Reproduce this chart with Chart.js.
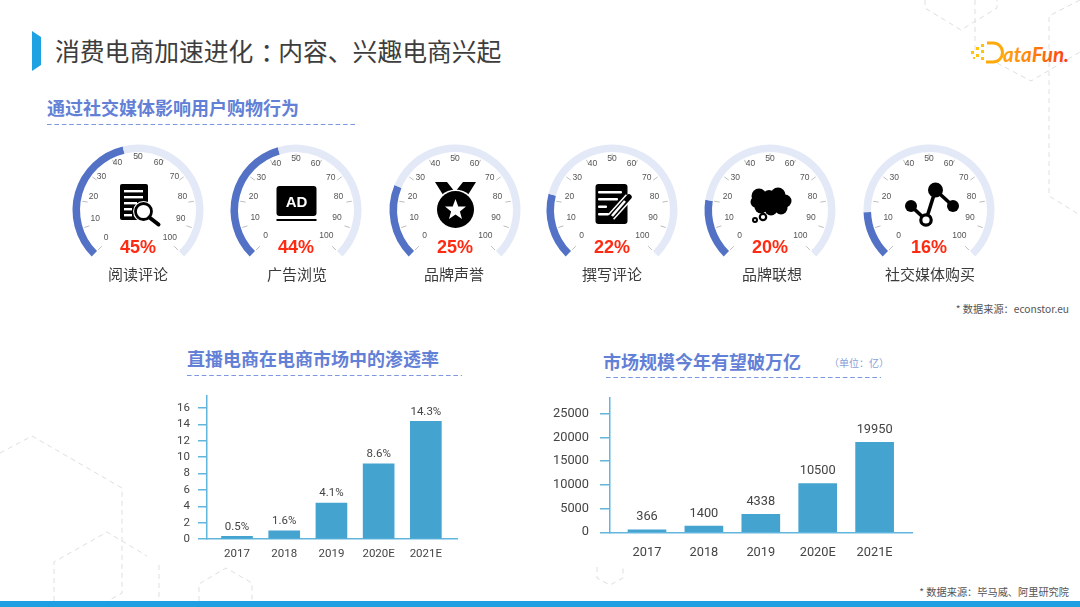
<!DOCTYPE html>
<html lang="zh">
<head>
<meta charset="utf-8">
<title>消费电商加速进化</title>
<script src="https://cdn.jsdelivr.net/npm/chart.js@4/dist/chart.umd.min.js"></script>
<style>
html,body{margin:0;padding:0;background:#fff}
#page{position:relative;width:1080px;height:607px;overflow:hidden;background:#fff;font-family:"Noto Sans CJK SC","Noto Sans",sans-serif}
#page>*{position:absolute}
.t{white-space:nowrap;line-height:1}
.sub{font-size:18px;font-weight:700;color:#6280d6;transform:translateY(-50%)}
canvas{display:block}
</style>
</head>
<body>
<div id="page">
<svg style="left:0;top:0" width="1080" height="607" fill="none" stroke="#dfdfdf" stroke-width="1" stroke-dasharray="5 4">
  <polyline points="0,453 32,436 122,488 122,593 108,601"/>
  <polyline points="54,601 54,562 107,532 147,556"/>
  <polyline points="159,565 159,601"/>
  <polyline points="199,601 199,584 226,568 252,583 252,601"/>
  <polyline points="597,567 597,578 610,585 623,578 623,566"/>
  <polyline points="925,0 925,8 961,30 997,8 997,0"/>
  <polyline points="975,0 975,50"/>
  <polyline points="1080,0 1049,16 1049,196 1080,215"/>
  <polyline points="997,63 1031,81 1080,52"/>
</svg>
<svg style="left:0;top:0" width="1080" height="607">
  <polygon points="32,31 41,37 41,65 32,71" fill="#1fa2e2"/>
  <rect x="0" y="601" width="1080" height="6" fill="#1f9fe3"/>
  <g stroke="#7d97e0" stroke-width="1.2" stroke-dasharray="4.6 2.8" fill="none">
    <line x1="47" y1="124.5" x2="356" y2="124.5"/>
    <line x1="187" y1="375.5" x2="462" y2="375.5"/>
    <line x1="606" y1="377.5" x2="881" y2="377.5"/>
  </g>
</svg>

<div class="t" style="left:55px;top:38px;font-size:24.8px;color:#3d3d3d">消费电商加速进化<span style="position:relative;left:7px">：</span>内容、兴趣电商兴起</div>

<div class="t sub" style="left:47px;top:107px">通过社交媒体影响用户购物行为</div>
<div class="t sub" style="left:187px;top:358px">直播电商在电商市场中的渗透率</div>
<div class="t sub" style="left:603px;top:361px">市场规模今年有望破万亿</div>
<div class="t" style="left:829px;top:358px;font-size:10px;color:#8a9fd8">（单位：亿）</div>

<div class="t" style="right:11px;top:304px;font-size:10.2px;color:#555">* 数据来源：econstor.eu</div>
<div class="t" style="right:11px;top:587px;font-size:10.2px;color:#555">* 数据来源：毕马威、阿里研究院</div>

<svg style="left:965px;top:36px" width="112" height="32">
  <defs><linearGradient id="logo" gradientUnits="userSpaceOnUse" x1="20" y1="0" x2="104" y2="0"><stop offset="0" stop-color="#ffb80e"/><stop offset="0.5" stop-color="#ff8a0a"/><stop offset="1" stop-color="#fb3a10"/></linearGradient></defs>
  <g fill="#ffc20e">
    <rect x="6" y="15" width="3" height="3"/><rect x="11" y="11" width="3" height="3"/><rect x="16" y="8" width="3" height="3"/>
    <rect x="11" y="18" width="3" height="3"/><rect x="16" y="14" width="3" height="3"/><rect x="16" y="21" width="3" height="3"/><rect x="8" y="21" width="2" height="2"/>
  </g>
  <path d="M22 7 h6 a9.5 9.5 0 0 1 0 19 h-7" fill="none" stroke="#ffa90c" stroke-width="3"/>
  <text x="38" y="26" font-family="Lato,Inter,sans-serif" font-style="italic" font-weight="700" font-size="20" fill="url(#logo)" textLength="66" lengthAdjust="spacingAndGlyphs">ataFun.</text>
</svg>

<canvas id="rate" width="330" height="189" style="left:150px;top:381px"></canvas>
<canvas id="size" width="400" height="191" style="left:530px;top:379px"></canvas>
</div>

<script>
// ---------- data ----------
const gaugeNames = ['阅读评论','广告浏览','品牌声誉','撰写评论','品牌联想','社交媒体购买'];
const gaugeValues = [45,44,25,22,20,16];
const gaugeTicks = [0,10,20,30,40,50,60,70,80,90,100];

const years = ['2017','2018','2019','2020E','2021E'];
const rateBars = [0.33,1.0,4.4,9.2,14.4];
const rateLabels = ['0.5%','1.6%','4.1%','8.6%','14.3%'];
const rateTicks = [0,2,4,6,8,10,12,14,16];
const sizeBars = [540,1320,3760,10240,18940];
const sizeLabels = ['366','1400','4338','10500','19950'];
const sizeTicks = [0,5000,10000,15000,20000,25000];

// ---------- styling ----------
const gaugeX = [138,296,455,612,770,929];
const gaugeNameDX = [0,1,-1,0,2,1];
const gaugeLabelR = [45,43,43,43,43,43];
const CJK = '"Noto Sans CJK SC","Noto Sans",sans-serif';
const NUM = 'Roboto,sans-serif';
const icons = [
 `<rect x="-18" y="-26" width="28" height="36" rx="2" fill="#000"/>
  <g fill="#fff"><rect x="-14" y="-20" width="19" height="2.4"/><rect x="-14" y="-14" width="19" height="2.4"/><rect x="-14" y="-8" width="13" height="2.4"/><rect x="-14" y="-2" width="8" height="2.4"/><rect x="-14" y="4" width="8" height="2.4"/></g>
  <circle cx="5.5" cy="1.5" r="10.5" fill="#fff"/><circle cx="5.5" cy="1.5" r="8" fill="#fff" stroke="#000" stroke-width="2.8"/>
  <line x1="11.5" y1="7.5" x2="20.5" y2="14.5" stroke="#000" stroke-width="4" stroke-linecap="round"/>`,
 `<rect x="-19.5" y="-24" width="40" height="30" rx="3" fill="#000"/><rect x="-19.5" y="9" width="40" height="2" fill="#000"/>
  <text x="0.5" y="-3" text-anchor="middle" font-family="Liberation Sans,sans-serif" font-weight="700" font-size="15" fill="#fff">AD</text>`,
 `<polygon points="-20,-28 -8,-28 0,-18 8,-28 21,-28 11,-12 -10,-12" fill="#000"/>
  <circle cx="0.5" cy="-0.5" r="20" fill="#fff"/>
  <circle cx="0.5" cy="-0.5" r="18.5" fill="#000"/>
  <polygon points="0.5,-11 3.3,-3.6 11,-3.4 4.9,1.4 7,8.9 0.5,4.6 -6,8.9 -3.9,1.4 -10,-3.4 -2.3,-3.6" fill="#fff"/>`,
 `<rect x="-16.5" y="-26" width="32" height="40" rx="3" fill="#000"/>
  <g fill="#fff"><rect x="-14" y="-19" width="24" height="2.6" rx="1"/><rect x="-14" y="-12" width="20" height="2.6" rx="1"/><rect x="-14" y="-4.5" width="9" height="2.6" rx="1"/><rect x="-14" y="3" width="11" height="2.6" rx="1"/></g>
  <line x1="-1" y1="7" x2="17" y2="-13" stroke="#fff" stroke-width="8.5"/>
  <line x1="-1" y1="7" x2="17" y2="-13" stroke="#000" stroke-width="5.5" stroke-linecap="round"/>
  <line x1="0" y1="6" x2="13" y2="-9" stroke="#fff" stroke-width="2.6"/>`,
 `<g fill="#000"><circle cx="-11" cy="-14" r="7.5"/><circle cx="-1" cy="-14" r="6"/><circle cx="8" cy="-15" r="7.5"/><circle cx="15" cy="-9" r="6.5"/><circle cx="11" cy="-2" r="6.5"/><circle cx="1" cy="-1" r="6.5"/><circle cx="-9" cy="-3" r="6.5"/><circle cx="-14" cy="-8" r="5.5"/><rect x="-10" y="-14" width="20" height="12"/></g>
  <circle cx="-7" cy="7" r="3.2" fill="#fff" stroke="#000" stroke-width="2.2"/><circle cx="-15" cy="10" r="2" fill="#fff" stroke="#000" stroke-width="2"/>`,
 `<g stroke="#000" stroke-width="3.6"><line x1="6.5" y1="-20" x2="-3" y2="10"/><line x1="6.5" y1="-20" x2="24" y2="-4"/><line x1="-18" y1="-4" x2="-3" y2="10"/></g>
  <circle cx="6.5" cy="-20" r="7.5" fill="#000"/><circle cx="-18" cy="-4" r="6" fill="#000"/><circle cx="24" cy="-4" r="6" fill="#000"/>
  <circle cx="-3" cy="10" r="5.2" fill="#fff" stroke="#000" stroke-width="3.2"/>`
];

// ---------- gauges ----------
const page = document.getElementById('page');
const CENTER_Y = 210;
const gaugeDecor = {
  id:'gaugeDecor',
  afterDatasetsDraw(chart, args, opts){
    const arc = chart.getDatasetMeta(0).data[0];
    const cx = arc.x, cy = arc.y, ctx = chart.ctx;
    ctx.save();
    gaugeTicks.forEach(v=>{
      const a = (-135 + 2.7*v)*Math.PI/180, s=Math.sin(a), c=Math.cos(a);
      ctx.strokeStyle='#bdbdbd'; ctx.lineWidth=1;
      ctx.beginPath(); ctx.moveTo(cx+s*51,cy-c*51); ctx.lineTo(cx+s*56.5,cy-c*56.5); ctx.stroke();
      const r = opts.labelR, yo = 6 + 2*c;
      ctx.fillStyle='#555'; ctx.font='8.5px "Liberation Sans",sans-serif';
      ctx.textAlign='center'; ctx.textBaseline='middle';
      ctx.fillText(String(v), cx+s*r, cy-c*r-yo);
    });
    ctx.fillStyle='#ff2a12'; ctx.font='bold 18px "Liberation Sans",sans-serif';
    ctx.fillText(opts.value+'%', cx, 248-opts.top);
    ctx.fillStyle='#3a3a3a'; ctx.font='15px '+CJK;
    ctx.fillText(opts.name, cx+opts.nameDX, 274.5-opts.top);
    ctx.restore();
  }
};
gaugeValues.forEach((v,i)=>{
  const W=150, H=171, top=125, left=gaugeX[i]-75;
  const cv=document.createElement('canvas');
  cv.width=W; cv.height=H;
  cv.style.cssText=`left:${left}px;top:${top}px`;
  page.appendChild(cv);
  new Chart(cv,{
    type:'doughnut',
    plugins:[gaugeDecor],
    data:{labels:[gaugeNames[i],''],datasets:[{data:[v,100-v],backgroundColor:['#5372c6','#e3e9f7'],borderWidth:0,hoverOffset:0}]},
    options:{
      responsive:false,animation:false,events:[],
      rotation:-135,circumference:270,radius:65.5,cutout:'88.5%',
      layout:{padding:{bottom:20}},
      plugins:{legend:{display:false},tooltip:{enabled:false},
        gaugeDecor:{labelR:gaugeLabelR[i],value:v,name:gaugeNames[i],nameDX:gaugeNameDX[i],top}}
    }
  });
  const svg=document.createElementNS('http://www.w3.org/2000/svg','svg');
  svg.setAttribute('width',80);svg.setAttribute('height',70);
  svg.setAttribute('viewBox','-40 -35 80 70');
  svg.style.cssText=`left:${gaugeX[i]-40}px;top:${CENTER_Y-35}px`;
  svg.innerHTML=icons[i];
  page.appendChild(svg);
});

// ---------- bar charts ----------
const valueLabels = {
  id:'valueLabels',
  afterDatasetsDraw(chart,args,opts){
    const ctx=chart.ctx;
    ctx.save();
    ctx.fillStyle='#444';ctx.font=opts.font;ctx.textAlign='center';ctx.textBaseline='middle';
    chart.getDatasetMeta(0).data.forEach((b,i)=>ctx.fillText(opts.texts[i],b.x,b.y-opts.gap));
    ctx.restore();
  }
};
function barChart(id,bars,texts,yTicks,c){
  const axis='#62b5dd';
  new Chart(document.getElementById(id),{
    type:'bar',
    plugins:[valueLabels],
    data:{datasets:[{data:bars.map((y,i)=>({x:i,y})),backgroundColor:'#44a3cf',barThickness:c.bar}]},
    options:{
      responsive:false,animation:false,events:[],
      layout:{padding:{top:c.padTop,right:c.padRight,left:0,bottom:0}},
      scales:{
        x:{type:'linear',offset:false,min:c.xMin,max:c.xMax,
           afterFit(s){s.height=c.xH;},
           grid:{display:true,offset:false,drawOnChartArea:false,drawTicks:false},
           border:{color:axis,width:1.5},
           ticks:{stepSize:1,includeBounds:false,autoSkip:false,maxRotation:0,padding:c.xPad,color:'#444',font:{family:NUM,size:c.fs},
                  callback:v=>years[v]}},
        y:{type:'linear',min:0,max:c.yMax,
           afterFit(s){s.width=c.yW;},
           afterBuildTicks(s){s.ticks=yTicks.map(value=>({value}));},
           grid:{drawOnChartArea:false,drawTicks:true,tickLength:c.tickLen,color:axis,lineWidth:1.5},
           border:{color:axis,width:1.5},
           ticks:{autoSkip:false,padding:c.yPad,color:'#444',font:{family:NUM,size:c.fs},callback:v=>String(v)}}
      },
      plugins:{legend:{display:false},tooltip:{enabled:false},
        valueLabels:{texts,gap:c.gap,font:`${c.fs}px ${NUM}`}}
    }
  });
}
barChart('rate',rateBars,rateLabels,rateTicks,{bar:31,padTop:0,padRight:23,xH:31,xPad:8,yW:57,tickLen:9,yPad:8,xMin:-0.636,xMax:4.66,yMax:17.5,fs:11.5,gap:9.5});
barChart('size',sizeBars,sizeLabels,sizeTicks,{bar:38,padTop:0,padRight:18,xH:37.7,xPad:13,yW:80,tickLen:10,yPad:11,xMin:-0.65,xMax:4.657,yMax:28345,fs:12.8,gap:12.5});
</script>
</body>
</html>
